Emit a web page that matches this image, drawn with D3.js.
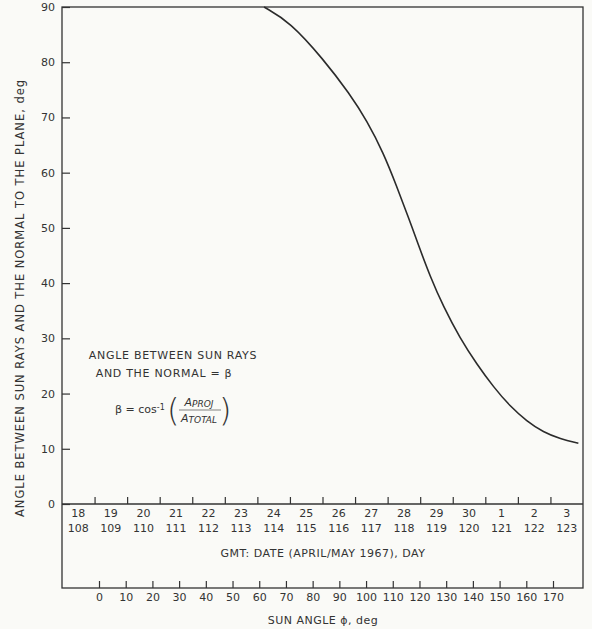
<!DOCTYPE html>
<html>
<head>
<meta charset="utf-8">
<script src="https://cdn.jsdelivr.net/npm/d3@7"></script>
<style>
  body { margin: 0; background: #fafaf7; }
  svg { display: block; }
  text { font-family: "DejaVu Sans", sans-serif; fill: #333; }
</style>
</head>
<body>
<div id="chart"></div>
<script>
// sun angle phi (deg) vs beta (deg)
const sunAngle = [61.8, 71.5, 83.9, 94.0, 100.3, 106.5, 111.5, 115.8, 119.6, 124.0, 128.9, 135.2, 141.5, 147.7, 153.9, 160.2, 166.4, 172.7, 179.5];
const beta     = [90.0, 87.3, 80.6, 74.2, 69.4, 63.6, 57.5, 52.0, 46.9, 41.2, 35.8, 30.0, 25.3, 21.2, 17.7, 15.0, 13.0, 11.8, 11.0];

const yTicks = [0, 10, 20, 30, 40, 50, 60, 70, 80, 90];
const dayOfMonth = ["18","19","20","21","22","23","24","25","26","27","28","29","30","1","2","3"];
const dayOfYear  = ["108","109","110","111","112","113","114","115","116","117","118","119","120","121","122","123"];
const sunTicks = [0,10,20,30,40,50,60,70,80,90,100,110,120,130,140,150,160,170];

const W = 592, H = 629;
const plotLeft = 62, plotRight = 583, plotTop = 7, zeroY = 504, plotBottom = 588;
const ink = "#333";

const svg = d3.select("#chart")
  .append("svg")
  .attr("width", W)
  .attr("height", H);

const y = d3.scaleLinear().domain([0, 90]).range([zeroY, plotTop]);
const xDay = d3.scaleLinear().domain([0, 16]).range([plotLeft, plotRight]);
const xSun = d3.scaleLinear().domain([0, 170]).range([99, 553]);

// frame
svg.append("rect")
  .attr("x", plotLeft).attr("y", plotTop)
  .attr("width", plotRight - plotLeft).attr("height", plotBottom - plotTop)
  .attr("fill", "none").attr("stroke", ink).attr("stroke-width", 1.3);

// date axis line (beta = 0)
svg.append("line")
  .attr("x1", plotLeft).attr("x2", plotRight)
  .attr("y1", zeroY).attr("y2", zeroY)
  .attr("stroke", ink).attr("stroke-width", 1.3);

// y axis, ticks pointing inward
const yAxis = svg.append("g")
  .attr("transform", `translate(${plotLeft},0)`)
  .call(d3.axisLeft(y).tickValues(yTicks).tickSizeInner(-8).tickSizeOuter(0).tickPadding(7));
yAxis.select(".domain").remove();
yAxis.selectAll("line").attr("stroke", ink).attr("stroke-width", 1.2);
yAxis.selectAll("text").style("font-size", "11px").style("font-family", "DejaVu Sans").attr("fill", ink);

svg.append("text")
  .attr("transform", `translate(20,${(80 + 517) / 2}) rotate(-90)`)
  .attr("text-anchor", "middle")
  .attr("dy", "0.35em")
  .attr("textLength", 437)
  .attr("lengthAdjust", "spacing")
  .style("font-size", "11.5px")
  .text("ANGLE BETWEEN SUN RAYS AND THE NORMAL TO THE PLANE, deg");

// date axis ticks (day boundaries)
const dAxis = svg.append("g")
  .attr("transform", `translate(0,${zeroY})`)
  .call(d3.axisBottom(xDay).tickValues(d3.range(1, 16)).tickSize(-7).tickFormat(""));
dAxis.select(".domain").remove();
dAxis.selectAll("line").attr("stroke", ink).attr("stroke-width", 1.2);

svg.append("g").selectAll("text")
  .data(dayOfMonth)
  .join("text")
  .attr("x", (d, i) => xDay(i + 0.5))
  .attr("y", 513)
  .attr("dy", "0.35em")
  .attr("text-anchor", "middle")
  .style("font-size", "11px")
  .text(d => d);

svg.append("g").selectAll("text")
  .data(dayOfYear)
  .join("text")
  .attr("x", (d, i) => xDay(i + 0.5))
  .attr("y", 528)
  .attr("dy", "0.35em")
  .attr("text-anchor", "middle")
  .style("font-size", "11px")
  .text(d => d);

svg.append("text")
  .attr("x", 323).attr("y", 553)
  .attr("dy", "0.35em")
  .attr("text-anchor", "middle")
  .style("font-size", "11px")
  .style("letter-spacing", "0.5px")
  .text("GMT: DATE (APRIL/MAY 1967), DAY");

// sun angle axis
const sAxis = svg.append("g")
  .attr("transform", `translate(0,${plotBottom})`)
  .call(d3.axisBottom(xSun).tickValues(sunTicks).tickSizeInner(-7).tickSizeOuter(0).tickPadding(5));
sAxis.select(".domain").remove();
sAxis.selectAll("line").attr("stroke", ink).attr("stroke-width", 1.2);
sAxis.selectAll("text").style("font-size", "11px").style("font-family", "DejaVu Sans").attr("fill", ink);

svg.append("text")
  .attr("x", 323).attr("y", 620)
  .attr("dy", "0.35em")
  .attr("text-anchor", "middle")
  .style("font-size", "11px")
  .style("letter-spacing", "0.5px")
  .text("SUN ANGLE \u03D5, deg");

// curve
const pts = sunAngle.map((s, i) => [s, beta[i]]);
svg.append("path")
  .datum(pts)
  .attr("fill", "none")
  .attr("stroke", "#2b2b2b")
  .attr("stroke-width", 1.6)
  .attr("d", d3.line()
    .x(d => xSun(d[0]))
    .y(d => y(d[1]))
    .curve(d3.curveBasis));

// annotation
const note = svg.append("g");
note.append("text")
  .attr("x", 173).attr("y", 355)
  .attr("dy", "0.35em")
  .attr("text-anchor", "middle")
  .style("font-size", "11px")
  .style("letter-spacing", "0.7px")
  .text("ANGLE BETWEEN SUN RAYS");
note.append("text")
  .attr("x", 164).attr("y", 373)
  .attr("dy", "0.35em")
  .attr("text-anchor", "middle")
  .style("font-size", "11px")
  .style("letter-spacing", "0.7px")
  .text("AND THE NORMAL = \u03B2");

const f = note.append("text")
  .attr("x", 115).attr("y", 409)
  .attr("dy", "0.35em")
  .style("font-size", "11px");
f.append("tspan").text("\u03B2 = cos");
f.append("tspan").attr("dy", "-0.35em").style("font-size", "8px").text("-1");

note.append("text")
  .attr("x", 167).attr("y", 410)
  .attr("dy", "0.35em")
  .style("font-size", "32px")
  .style("font-weight", "200")
  .text("(");
note.append("text")
  .attr("x", 219).attr("y", 410)
  .attr("dy", "0.35em")
  .style("font-size", "32px")
  .style("font-weight", "200")
  .text(")");

const num = note.append("text")
  .attr("x", 199).attr("y", 402)
  .attr("dy", "0.35em")
  .attr("text-anchor", "middle")
  .style("font-style", "italic")
  .style("font-size", "11px");
num.append("tspan").text("A");
num.append("tspan").style("font-size", "9px").attr("dy", "0.15em").text("PROJ");

note.append("line")
  .attr("x1", 179).attr("x2", 221)
  .attr("y1", 410).attr("y2", 410)
  .attr("stroke", ink).attr("stroke-width", 0.6);

const den = note.append("text")
  .attr("x", 199).attr("y", 418)
  .attr("dy", "0.35em")
  .attr("text-anchor", "middle")
  .style("font-style", "italic")
  .style("font-size", "11px");
den.append("tspan").text("A");
den.append("tspan").style("font-size", "9px").attr("dy", "0.15em").text("TOTAL");
</script>
</body>
</html>
